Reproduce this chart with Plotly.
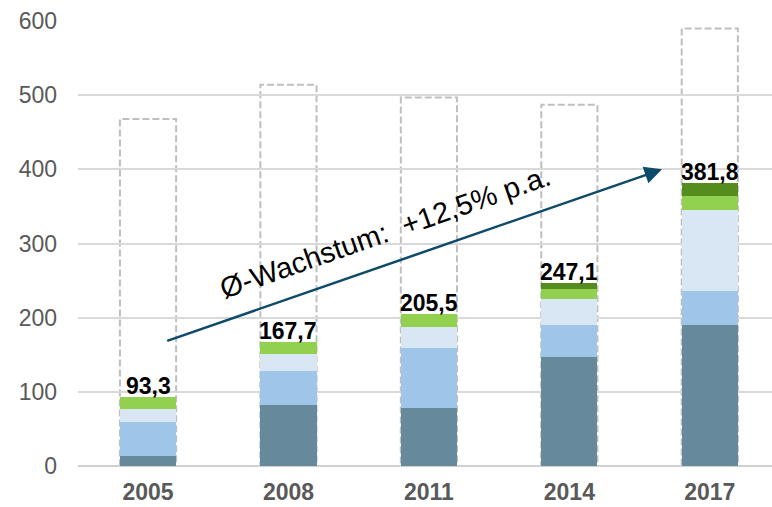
import plotly.graph_objects as go

years = ["2005", "2008", "2011", "2014", "2017"]
seg_dark = [14.0, 82.0, 78.5, 146.3, 190.7]
seg_mid = [46.0, 46.0, 80.0, 43.5, 44.8]
seg_light = [17.0, 23.0, 29.0, 35.0, 110.0]
seg_lgreen = [16.3, 16.7, 18.0, 13.4, 18.0]
seg_dgreen = [0.0, 0.0, 0.0, 8.9, 18.3]
totals = [93.3, 167.7, 205.5, 247.1, 381.8]
capacity = [468, 514, 497, 487, 590]
y_ticks = [0, 100, 200, 300, 400, 500, 600]

growth_text = "Ø-Wachstum:\u00a0 +12,5% p.a."
arrow_start = (0.126, 168)
arrow_end = (3.66, 400)
text_pos = (1.69, 316)

colors = ["#67899c", "#9fc5e8", "#d9e7f5", "#92d050", "#548c1e"]
series = [seg_dark, seg_mid, seg_light, seg_lgreen, seg_dgreen]

FONT = "Liberation Sans, Arial"
xi = list(range(len(years)))
BW = 0.4
fig = go.Figure()
for vals, col in zip(series, colors):
    fig.add_trace(go.Bar(x=xi, y=vals, width=BW, marker=dict(color=col, line=dict(width=0)),
                         showlegend=False, hoverinfo="skip"))

for i, cap in enumerate(capacity):
    fig.add_shape(type="rect", xref="x", yref="y", x0=i - BW / 2, x1=i + BW / 2, y0=0, y1=cap,
                  line=dict(color="#bfbfbf", width=2, dash="7px,3px"), fillcolor="rgba(0,0,0,0)",
                  layer="below")

for i, t in enumerate(totals):
    fig.add_annotation(x=i, y=t, xref="x", yref="y", text=f"{t:.1f}".replace(".", ","),
                       showarrow=False, yanchor="bottom", yshift=-4,
                       font=dict(family=FONT, size=23, color="#000000", weight="bold"))

fig.add_annotation(x=arrow_end[0], y=arrow_end[1], ax=arrow_start[0], ay=arrow_start[1],
                   xref="x", yref="y", axref="x", ayref="y", text="", showarrow=True,
                   arrowhead=2, arrowsize=1.4, arrowwidth=2.5, arrowcolor="#0e4a6a")
fig.add_annotation(x=text_pos[0], y=text_pos[1], xref="x", yref="y", text=growth_text,
                   showarrow=False, textangle=-19.3,
                   font=dict(family=FONT, size=29, color="#000000"))

fig.update_layout(
    width=772, height=507, barmode="stack",
    margin=dict(l=78, r=0, t=21, b=41),
    plot_bgcolor="white", paper_bgcolor="white",
    xaxis=dict(range=[-0.4986, 4.443], tickvals=xi, ticktext=years, showgrid=False,
               showline=False, zeroline=False, ticks="", ticklabelstandoff=10,
               tickfont=dict(family=FONT, size=23, color="#595959", weight="bold")),
    yaxis=dict(range=[0, 600], tickvals=y_ticks, showgrid=True, gridcolor="#d9d9d9", gridwidth=1.5,
               zeroline=True, zerolinecolor="#d0d0d0", zerolinewidth=2, ticks="",
               ticklabelstandoff=20,
               tickfont=dict(family=FONT, size=23, color="#595959")),
)

fig.write_html("out.html", config={"displayModeBar": False},
               post_script="document.body.style.margin='0';")
